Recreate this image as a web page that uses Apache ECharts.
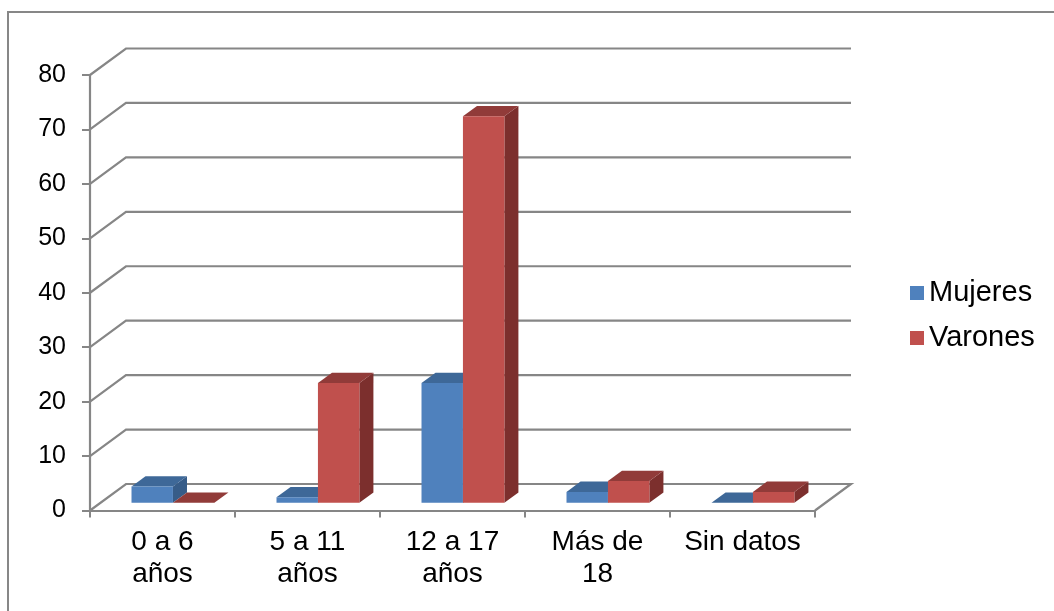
<!DOCTYPE html>
<html>
<head>
<meta charset="utf-8">
<script src="https://cdn.jsdelivr.net/npm/echarts@6/dist/echarts.min.js"></script>
<style>
html,body{margin:0;padding:0;background:#fff;}
#c{width:1054px;height:611px;}
</style>
</head>
<body>
<div id="c"></div>
<script>
const categories = ['0 a 6\naños', '5 a 11\naños', '12 a 17\naños', 'Más de\n18', 'Sin datos'];
const mujeres = [3, 1, 22, 2, 0];
const varones = [0, 22, 71, 4, 2];
const yTicks = [0, 10, 20, 30, 40, 50, 60, 70, 80];
const seriesNames = ['Mujeres', 'Varones'];

// 3D depth styling (pixels)
const DX = 36, DY = -26.5;
const F1 = 0.29, F2 = 0.68;
const FONT = '"Liberation Sans", Arial, sans-serif';

const chart = echarts.init(document.getElementById('c'), null, {renderer: 'canvas'});

function gridRender(params, api) {
  const cs = params.coordSys;
  const v = api.value(1);
  const y = api.coord([0, v])[1];
  const gx = cs.x, gw = cs.width;
  const pts = [[gx, y], [gx + DX, y + DY], [gx + gw + DX, y + DY]];
  if (v === 0) pts.push([gx + gw, y]);
  return {
    type: 'polyline',
    shape: {points: pts},
    style: {stroke: '#868686', lineWidth: 2.2, fill: null}
  };
}

function barRender(idx, front, topC, side) {
  return function (params, api) {
    const ci = api.value(0), v = api.value(1);
    const pt = api.coord([ci, v]);
    const base = api.coord([ci, 0]);
    const band = api.size([1, 0])[0];
    const w = band / 3.5;
    const x0 = pt[0] - w + idx * w;
    const ax = DX * F1, ay = DY * F1, bx = DX * F2, by = DY * F2;
    const yt = pt[1], yb = base[1];
    return {
      type: 'group',
      children: [
        {type: 'polygon', shape: {points: [[x0 + w + ax, yt + ay], [x0 + w + bx, yt + by], [x0 + w + bx, yb + by], [x0 + w + ax, yb + ay]]}, style: {fill: side}},
        {type: 'polygon', shape: {points: [[x0 + ax, yt + ay], [x0 + w + ax, yt + ay], [x0 + w + bx, yt + by], [x0 + bx, yt + by]]}, style: {fill: topC}},
        {type: 'rect', shape: {x: x0 + ax, y: yt + ay, width: w, height: yb - yt}, style: {fill: front}}
      ]
    };
  };
}

const option = {
  animation: false,
  graphic: [{
    type: 'rect', shape: {x: 8, y: 12, width: 1100, height: 700},
    style: {fill: null, stroke: '#878787', lineWidth: 2}, silent: true
  }],
  grid: {left: 90, right: 239, top: 75, bottom: 100.5},
  legend: {
    data: seriesNames,
    orient: 'vertical',
    left: 905, top: 272,
    itemWidth: 14, itemHeight: 14, itemGap: 13,
    icon: 'rect',
    textStyle: {fontSize: 29, lineHeight: 32, color: '#000', fontFamily: FONT}
  },
  xAxis: {
    type: 'category',
    data: categories,
    axisLine: {lineStyle: {color: '#868686', width: 2.2}},
    axisTick: {show: true, length: 7, interval: 0, lineStyle: {color: '#868686', width: 2}},
    axisLabel: {interval: 0, fontSize: 28, lineHeight: 32, color: '#000', fontFamily: FONT, margin: 16}
  },
  yAxis: {
    type: 'value', min: 0, max: 80, interval: 10,
    axisLine: {show: true, lineStyle: {color: '#868686', width: 2.2}},
    axisTick: {show: true, length: 8, lineStyle: {color: '#868686', width: 2}},
    splitLine: {show: false},
    axisLabel: {fontSize: 25, color: '#000', fontFamily: FONT, margin: 24}
  },
  series: [
    {
      type: 'custom', name: '_grid', z: 1, silent: true,
      data: yTicks.map(v => [0, v]),
      renderItem: gridRender
    },
    {
      type: 'custom', name: seriesNames[0], z: 3,
      itemStyle: {color: '#4F81BD'},
      data: mujeres.map((v, i) => [i, v]),
      renderItem: barRender(0, '#4F81BD', '#3E6898', '#375C88')
    },
    {
      type: 'custom', name: seriesNames[1], z: 3,
      itemStyle: {color: '#C0504D'},
      data: varones.map((v, i) => [i, v]),
      renderItem: barRender(1, '#C0504D', '#913B39', '#7C2F2D')
    }
  ]
};
chart.setOption(option);
</script>
</body>
</html>
